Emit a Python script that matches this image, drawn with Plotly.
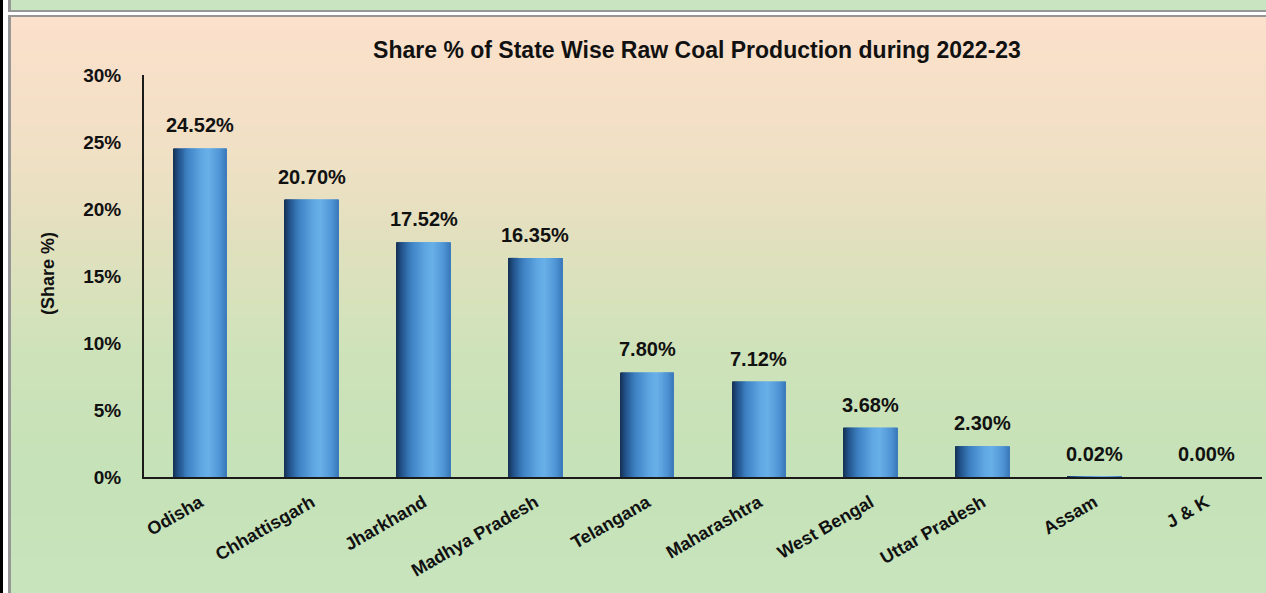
import numpy as np
import plotly.graph_objects as go

# ---- data ----
states = ["Odisha", "Chhattisgarh", "Jharkhand", "Madhya Pradesh", "Telangana",
          "Maharashtra", "West Bengal", "Uttar Pradesh", "Assam", "J & K"]
share = [24.52, 20.70, 17.52, 16.35, 7.80, 7.12, 3.68, 2.30, 0.02, 0.00]
share_labels = ["24.52%", "20.70%", "17.52%", "16.35%", "7.80%", "7.12%",
                "3.68%", "2.30%", "0.02%", "0.00%"]
y_tickvals = [0, 5, 10, 15, 20, 25, 30]
y_ticktext = ["0%", "5%", "10%", "15%", "20%", "25%", "30%"]

TITLE = "Share % of State Wise Raw Coal Production during 2022-23"
YTITLE = "(Share %)"

# ---- geometry ----
W, H = 1266, 593
ML, MR, MT, MB = 144, 4, 75, 116
PW = W - ML - MR
PH = H - MT - MB

def px(x):
    return (x - ML) / PW

def py(y):
    return (H - MB - y) / PH

FONT = "Liberation Sans Narrow, Arial Narrow, Liberation Sans, Arial, sans-serif"
TXT = "#111111"

def lerp_colors(stops, t):
    ts = [s[0] for s in stops]
    cols = np.array([s[1] for s in stops], dtype=float)
    r = np.interp(t, ts, cols[:, 0])
    g = np.interp(t, ts, cols[:, 1])
    b = np.interp(t, ts, cols[:, 2])
    return f"rgb({int(r)},{int(g)},{int(b)})"

fig = go.Figure()

# cylindrical bar shading: overlapping vertical strips of the same bars
bar_w = 0.48
n_strips = 54
bar_stops = [(0.0, (20, 48, 82)), (0.10, (34, 82, 138)), (0.28, (62, 130, 196)),
             (0.55, (96, 168, 228)), (0.68, (104, 176, 232)), (0.88, (80, 150, 214)),
             (1.0, (60, 122, 186))]
sw = bar_w / n_strips
for k in range(n_strips):
    t = (k + 0.5) / n_strips
    fig.add_trace(go.Bar(
        x=states, y=share, width=sw * 1.6 if k < n_strips - 1 else sw,
        offset=-bar_w / 2 + k * sw,
        marker=dict(color=lerp_colors(bar_stops, t), line=dict(width=0)),
        showlegend=False, hoverinfo="skip"))

# data labels
for s, v, lab in zip(states, share, share_labels):
    fig.add_annotation(x=s, y=v, text=lab, showarrow=False, yanchor="middle",
                       yshift=23, font=dict(family=FONT, size=20, color=TXT, weight="bold"))

# background gradient + frame
shapes = []
grad_stops = [(17, (252, 224, 204)), (150, (241, 224, 197)), (250, (224, 225, 190)),
              (350, (207, 227, 186)), (480, (197, 226, 184)), (593, (200, 229, 190))]
n_bg = 96
edges = np.linspace(17, H, n_bg + 1)
ts_bg = [g[0] for g in grad_stops]
cols_bg = np.array([g[1] for g in grad_stops], dtype=float)
for i in range(n_bg):
    y0, y1 = edges[i], edges[i + 1]
    mid = (y0 + y1) / 2
    c = "rgb(%d,%d,%d)" % tuple(int(np.interp(mid, ts_bg, cols_bg[:, j])) for j in range(3))
    shapes.append(dict(type="rect", xref="paper", yref="paper", layer="below",
                       x0=px(11), x1=px(W + 2), y0=py(y1 + 0.6), y1=py(y0),
                       fillcolor=c, line=dict(width=0)))
# top green strip
shapes.append(dict(type="rect", xref="paper", yref="paper", layer="below",
                   x0=px(11), x1=px(W + 2), y0=py(10), y1=py(-2),
                   fillcolor="rgb(200,228,192)", line=dict(width=0)))
# borders
for (x0, x1, y0, y1, col) in [
    (8, W + 2, 10, 12, "rgb(150,150,150)"),
    (8, W + 2, 15, 17, "rgb(150,150,150)"),
    (8, 11, -2, 12, "rgb(150,150,150)"),
    (8, 11, 15, H + 2, "rgb(150,150,150)"),
    (-2, 3, -2, H + 2, "rgb(0,0,0)"),
]:
    shapes.append(dict(type="rect", xref="paper", yref="paper", layer="below",
                       x0=px(x0), x1=px(x1), y0=py(y1), y1=py(y0),
                       fillcolor=col, line=dict(width=0)))

fig.add_annotation(xref="paper", yref="paper", x=px(48), y=py(274), text=YTITLE,
                   textangle=-90, showarrow=False, xanchor="center", yanchor="middle",
                   font=dict(family=FONT, size=18, color=TXT, weight="bold"))

fig.update_layout(
    width=W, height=H,
    margin=dict(l=ML, r=MR, t=MT, b=MB, pad=0, autoexpand=False),
    paper_bgcolor="white", plot_bgcolor="rgba(0,0,0,0)",
    barmode="overlay",
    shapes=shapes,
    title=dict(text=TITLE, x=697 / W, xanchor="center", y=1 - 50 / H, yanchor="middle",
               yref="container", font=dict(family=FONT, size=23, color=TXT, weight="bold")),
    showlegend=False,
    font=dict(family=FONT, color=TXT),
)
fig.update_xaxes(showline=True, linecolor="#1a1a1a", linewidth=2, showgrid=False,
                 ticks="", tickangle=-30, ticklabelstandoff=6, automargin=False,
                 tickfont=dict(family=FONT, size=18, color=TXT, weight="bold"),
                 range=[-0.5, len(states) - 0.5], fixedrange=True)
fig.update_yaxes(showline=True, linecolor="#1a1a1a", linewidth=2, showgrid=False,
                 zeroline=False, ticks="", range=[0, 30], tickvals=y_tickvals,
                 ticktext=y_ticktext, ticklabelstandoff=17, automargin=False,
                 tickfont=dict(family=FONT, size=19, color=TXT, weight="bold"),
                 fixedrange=True)

fig.write_html("out.html", config={"displayModeBar": False},
               post_script="document.body.style.margin='0';document.body.style.overflow='hidden';")
